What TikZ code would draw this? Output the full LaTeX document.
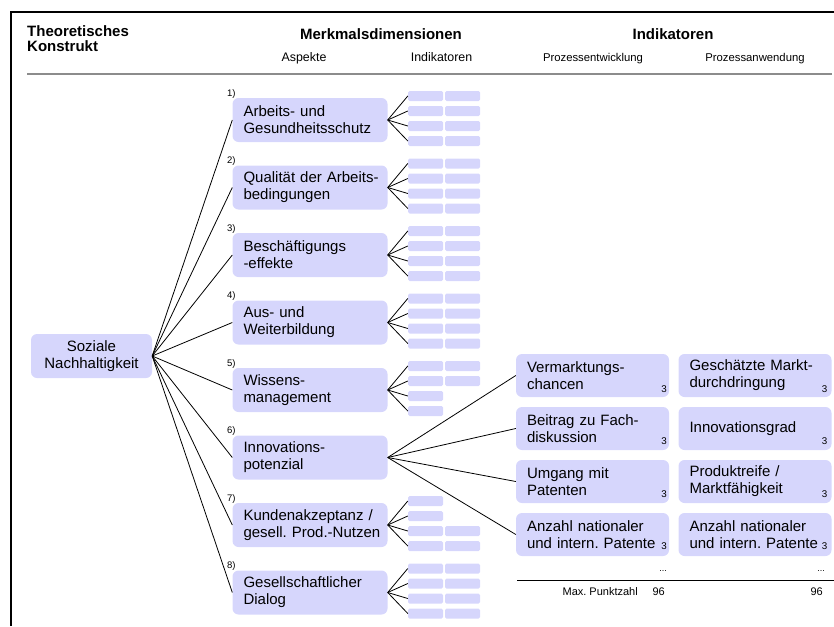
\documentclass[tikz,border=0pt]{standalone}
\usepackage{fontspec}
\setmainfont{Liberation Sans}
\frenchspacing
\definecolor{boxc}{RGB}{214,214,252}
\begin{document}
\frenchspacing
\begin{tikzpicture}[x=1pt,y=-1pt,
  box/.style={rectangle, rounded corners=6pt, fill=boxc, inner xsep=11pt, inner ysep=0pt, minimum height=44pt, font=\fontsize{15}{17.2}\selectfont},
  asp/.style={box, text width=133pt, align=left},
  ind/.style={box, text width=131pt, align=left, minimum height=43pt},
  bar/.style={rectangle, rounded corners=1.5pt, fill=boxc, minimum width=35pt, minimum height=10pt, inner sep=0pt},
  conn/.style={line width=0.8pt},
  hbold/.style={font=\fontsize{15}{14.5}\selectfont\bfseries, inner sep=0pt},
  hsub/.style={font=\fontsize{12.4}{14}\selectfont, inner sep=0pt, anchor=base},
  hsubs/.style={font=\fontsize{11.3}{12}\selectfont, inner sep=0pt, anchor=base},
  num/.style={font=\fontsize{9.5}{10}\selectfont, inner sep=0pt, anchor=base west},
  pts/.style={font=\fontsize{9.8}{10}\selectfont, inner sep=0pt, anchor=base},
  foot/.style={font=\fontsize{11}{12}\selectfont, inner sep=0pt, anchor=base east}]
\useasboundingbox (0,0) rectangle (834,626);

% frame
\draw[line width=2pt] (11,626) -- (11,12) -- (834,12);
\draw[line width=1.3pt, black!45] (27,74) -- (832,74);

% headers
\node[hbold, anchor=north west, align=left] (hk) at (27,25.5) {Theoretisches\\Konstrukt};
\node[hbold, anchor=base] (hm) at (381,39.5) {Merkmalsdimensionen};
\node[hbold, anchor=base] (hi) at (673,39.5) {Indikatoren};
\node[hsub] (ha) at (304,62) {Aspekte};
\node[hsub] (hn) at (441.5,62) {Indikatoren};
\node[hsubs] (hp) at (593,62) {Prozessentwicklung};
\node[hsubs] (hq) at (755,62) {Prozessanwendung};

% root
\node[box, text width=99pt, align=center] (root) at (91.5,356) {Soziale\\Nachhaltigkeit};

% aspects
\foreach \i/\cy/\txt in {
  1/120/{Arbeits- und\\Gesundheitsschutz},
  2/187.5/{\mbox{Qualität der Arbeits-}\\bedingungen},
  3/255/{Beschäftigungs\\-effekte},
  4/322.5/{Aus- und\\Weiterbildung},
  5/390/{Wissens-\\management},
  6/457.5/{Innovations-\\potenzial},
  7/525/{Kundenakzeptanz /\\\mbox{gesell. Prod.-Nutzen}},
  8/592.5/{Gesellschaftlicher\\Dialog}} {
  \node[asp] (a\i) at (310,\cy) {\txt};
  \node[num] (n\i) at (227,{\cy-24}) {\i)};
  \draw[conn] (root.east) -- (a\i.west);
}

% indicator bars
\foreach \i/\cy in {1/120,2/187.5,3/255,4/322.5,8/592.5} {
  \foreach \r in {1,2,3,4} {
    \node[bar] (b\i-\r-L) at (425.5,{\cy-39+15*\r}) {};
    \node[bar] (b\i-\r-R) at (462.5,{\cy-39+15*\r}) {};
    \draw[conn] (a\i.east) -- (b\i-\r-L.west);
  }
}
\foreach \r in {1,2,3,4} {
  \node[bar] (b5-\r-L) at (425.5,{390-39+15*\r}) {};
  \draw[conn] (a5.east) -- (b5-\r-L.west);
  \node[bar] (b7-\r-L) at (425.5,{525-39+15*\r}) {};
  \draw[conn] (a7.east) -- (b7-\r-L.west);
}
\foreach \r in {1,2} {
  \node[bar] (b5-\r-R) at (462.5,{390-39+15*\r}) {};
}
\foreach \r in {3,4} {
  \node[bar] (b7-\r-R) at (462.5,{525-39+15*\r}) {};
}

% indicators: process development
\node[ind] (p1) at (592.5,375.5) {Vermarktungs-\\chancen};
\node[ind] (p2) at (592.5,428.5) {Beitrag zu Fach-\\diskussion};
\node[ind] (p3) at (592.5,481.5) {Umgang mit\\Patenten};
\node[ind] (p4) at (592.5,534.5) {Anzahl nationaler\\\mbox{und intern. Patente}};
% indicators: process application
\node[ind] (q1) at (755,375.5) {\mbox{Geschätzte Markt-}\\durchdringung};
\node[ind] (q2) at (755,428.5) {Innovationsgrad};
\node[ind] (q3) at (755,481.5) {Produktreife /\\Marktfähigkeit};
\node[ind] (q4) at (755,534.5) {Anzahl nationaler\\\mbox{und intern. Patente}};

\foreach \r in {1,2,3,4} {
  \draw[conn] (a6.east) -- (p\r.west);
}

% points
\foreach \r/\yb in {1/392,2/444,3/497,4/549} {
  \node[pts] (sp\r) at (664,\yb) {3};
  \node[pts] (sq\r) at (824.5,\yb) {3};
}

% footer
\node[foot, font=\fontsize{9}{10}\selectfont] (dp) at (667,571) {...};
\node[foot, font=\fontsize{9}{10}\selectfont] (dq) at (825,571) {...};
\draw[line width=0.9pt] (517,580) -- (834,580);
\node[foot] (mx) at (638,595) {Max. Punktzahl};
\node[foot] (mp) at (665,595) {96};
\node[foot] (mq) at (823,595) {96};
\end{tikzpicture}
\end{document}
